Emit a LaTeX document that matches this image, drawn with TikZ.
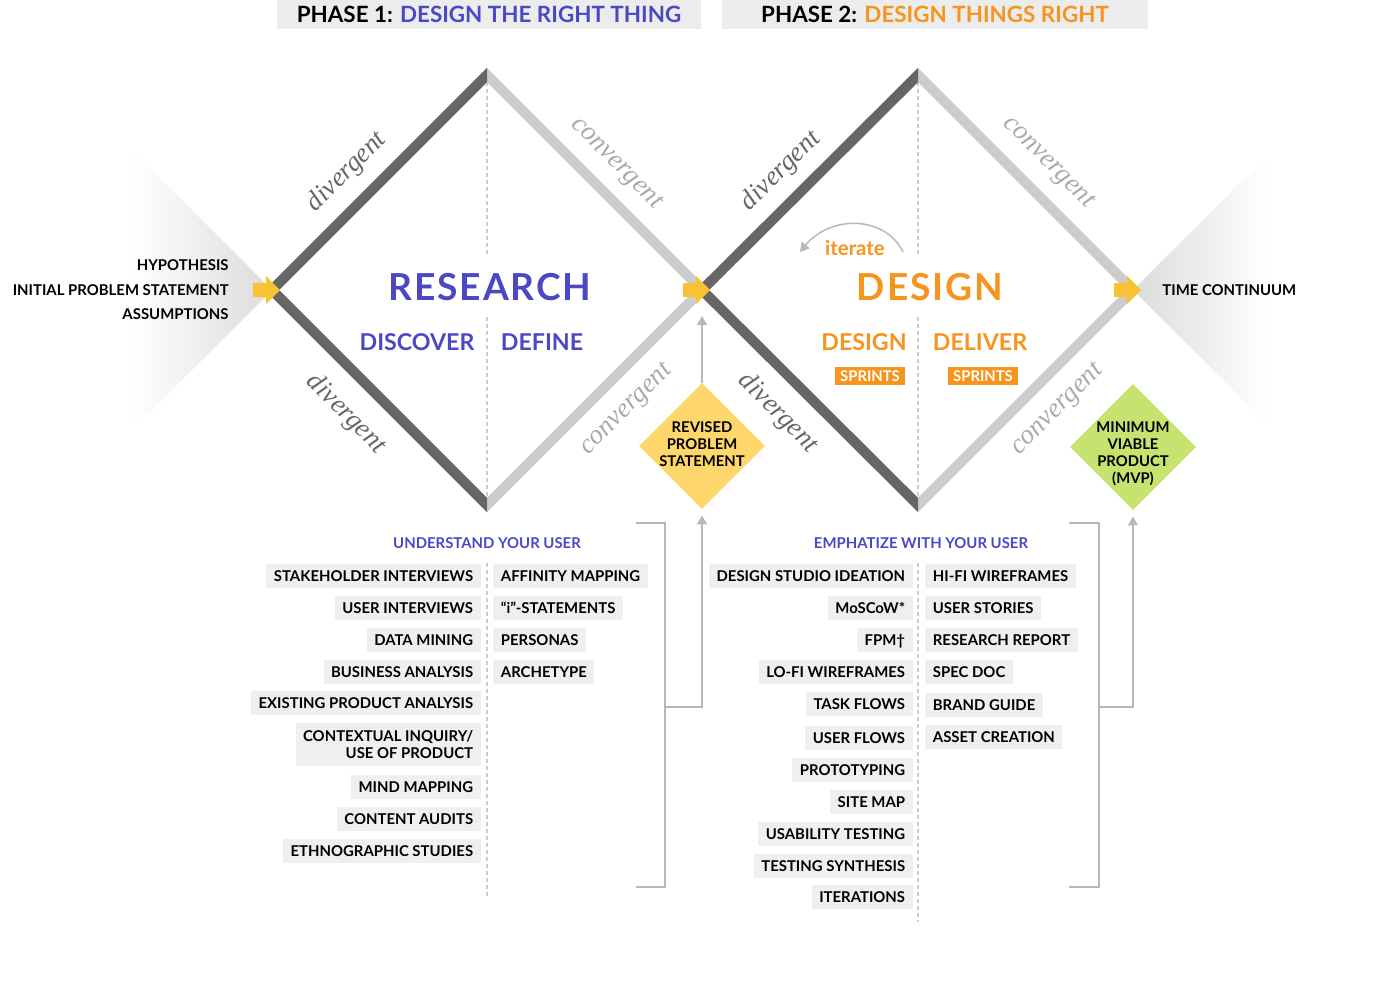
\documentclass[tikz,border=0pt]{standalone}
\usepackage{fontspec}
\setmainfont{Lato}
\newfontfamily\sideserif{Liberation Serif}
\usetikzlibrary{arrows.meta,shapes.geometric}
\definecolor{resblue}{HTML}{4B48C6}
\definecolor{desorange}{HTML}{F7941E}
\definecolor{barfill}{HTML}{ECECEC}
\definecolor{itemfill}{HTML}{EFEFEF}
\definecolor{darkside}{HTML}{666666}
\definecolor{lightside}{HTML}{CCCCCC}
\definecolor{convtext}{HTML}{AAAAAA}
\definecolor{arrowyellow}{HTML}{F8C332}
\definecolor{revyellow}{HTML}{FDD66C}
\definecolor{mvpgreen}{HTML}{C5E36E}
\definecolor{linkgray}{HTML}{B8B8B8}
\newcommand{\capsize}{\fontsize{7.45}{8.5}\selectfont\bfseries}
\tikzset{
  phasebar/.style={fill=barfill, minimum height=14.5pt, inner sep=0pt, text height=8pt, text depth=0pt, font=\fontsize{11.2}{13}\selectfont\bfseries},
  capstext/.style={inner sep=0pt, text height=5.4pt, text depth=0pt, font=\capsize},
  itemleft/.style={capstext, fill=itemfill, anchor=east, inner xsep=3.75pt, minimum height=12pt},
  itemright/.style={itemleft, anchor=west},
  itemtwo/.style={itemleft, align=right, text height={}, text depth={}, minimum height=21.5pt},
  listhead/.style={capstext, text=resblue},
  phaseword/.style={inner sep=0pt, font=\fontsize{18.6}{20}\selectfont\bfseries\addfontfeature{LetterSpace=5}},
  stageword/.style={inner sep=0pt, font=\fontsize{11.6}{13}\selectfont\bfseries},
  iterword/.style={inner sep=0pt, text=desorange, font=\fontsize{10.2}{12}\selectfont\bfseries},
  sprintbox/.style={fill=desorange, text=white, minimum width=35pt, minimum height=9pt, inner sep=0pt, text height=5.3pt, text depth=0pt, font=\fontsize{7.4}{8}\selectfont\bfseries},
  sideword/.style={inner sep=0pt, font=\sideserif\itshape\fontsize{13.5}{15}\selectfont},
  outcome/.style={diamond, aspect=1, minimum width=63pt, minimum height=63pt, inner sep=0pt},
  outcometext/.style={align=center, inner sep=0pt, font=\fontsize{7.4}{8.5}\selectfont\bfseries},
  divside/.style={darkside, line width=5pt, line join=miter},
  convside/.style={lightside, line width=5pt, line join=miter},
  guide/.style={lightside, line width=0.6pt, dash pattern=on 2pt off 1.5pt},
  linkline/.style={linkgray, line width=0.75pt},
  linkarrow/.style={linkline, -{Triangle[width=5pt,length=4.5pt]}},
}
\begin{document}
\begin{tikzpicture}[x=0.5pt,y=-0.5pt]
  \useasboundingbox (0,0) rectangle (1400,986);
  \coordinate (d1l) at (272,290);
  \coordinate (d1t) at (487,75);
  \coordinate (d1r) at (702,290);
  \coordinate (d1b) at (487,505);
  \coordinate (d2t) at (918,75);
  \coordinate (d2r) at (1133,290);
  \coordinate (d2b) at (918,505);
  % fading wedges
  \shade[left color=white, right color=black!14] (132,150) -- (d1l) -- (132,430) -- cycle;
  \shade[left color=black!14, right color=white] (d2r) -- (1268,155) -- (1268,425) -- cycle;
  % phase headers
  \node[phasebar, minimum width=212pt] (phase1) at (489,14.5) {PHASE 1: \textcolor{resblue}{DESIGN THE RIGHT THING}};
  \node[phasebar, minimum width=213pt] (phase2) at (935,14.5) {PHASE 2: \textcolor{desorange}{DESIGN THINGS RIGHT}};
  % centre guides
  \draw[guide] (d1t) -- (487,257) (487,317) -- (d1b) (487,563) -- (487,898);
  \draw[guide] (d2t) -- (918,255) (918,317) -- (d2b) (918,563) -- (918,922);
  % diamonds
  \draw[convside] (d1t) -- (d1r) -- (d1b) -- (d1l) -- cycle;
  \begin{scope}
    \clip (0,0) rectangle (487,986);
    \draw[divside] (d1t) -- (d1r) -- (d1b) -- (d1l) -- cycle;
  \end{scope}
  \draw[convside] (d2t) -- (d2r) -- (d2b) -- (d1r) -- cycle;
  \begin{scope}
    \clip (600,0) rectangle (918,986);
    \draw[divside] (d2t) -- (d2r) -- (d2b) -- (d1r) -- cycle;
  \end{scope}
  \foreach \v in {d1l,d1r,d2r}
    \fill[arrowyellow, shift={(\v)}] (-19,-7) -- (-6,-7) -- (-6,-14) -- (8,0) -- (-6,14) -- (-6,7) -- (-19,7) -- cycle;
  % side words
  \node[sideword, text=darkside, rotate=45] (div1a) at (347,172) {divergent};
  \node[sideword, text=convtext, rotate=-45] (conv1a) at (616,164) {convergent};
  \node[sideword, text=darkside, rotate=-45] (div1b) at (346,414) {divergent};
  \node[sideword, text=convtext, rotate=45] (conv1b) at (627,410) {convergent};
  \node[sideword, text=darkside, rotate=45] (div2a) at (781,171) {divergent};
  \node[sideword, text=convtext, rotate=-45] (conv2a) at (1048,163) {convergent};
  \node[sideword, text=darkside, rotate=-45] (div2b) at (778,413) {divergent};
  \node[sideword, text=convtext, rotate=45] (conv2b) at (1058,410) {convergent};
  % start and end
  \node[capstext, anchor=east] (hypothesis) at (229,265) {HYPOTHESIS};
  \node[capstext, anchor=east] (initial) at (229,290) {INITIAL PROBLEM STATEMENT};
  \node[capstext, anchor=east] (assumptions) at (229,314) {ASSUMPTIONS};
  \node[capstext, anchor=west] (timecont) at (1162,290) {TIME CONTINUUM};
  % phase words
  \node[phaseword, text=resblue] (research) at (490,287) {RESEARCH};
  \node[stageword, text=resblue] (discover) at (417,342) {DISCOVER};
  \node[stageword, text=resblue] (define) at (542,342) {DEFINE};
  \node[phaseword, text=desorange] (design) at (930,287) {DESIGN};
  \node[stageword, text=desorange] (designsub) at (864,342) {DESIGN};
  \node[stageword, text=desorange] (deliver) at (980,342) {DELIVER};
  \node[sprintbox] (sprint1) at (870,376) {SPRINTS};
  \node[sprintbox] (sprint2) at (983,376) {SPRINTS};
  \node[iterword] (iterate) at (855,248) {iterate};
  \coordinate (iterfrom) at (903,252);
  \coordinate (iterto) at (800,252);
  \draw[linkarrow] (iterfrom) .. controls (885,215) and (830,215) .. (iterto);
  % outcomes
  \node[outcome, fill=revyellow] (revised) at (702,446) {};
  \node[outcometext] (revisedtext) at (702,444) {REVISED\\PROBLEM\\STATEMENT};
  \node[outcome, fill=mvpgreen] (mvp) at (1133,447) {};
  \node[outcometext] (mvptext) at (1133,454) {MINIMUM\\VIABLE\\PRODUCT\\(MVP)};
  \draw[linkarrow, shorten >=13pt] (revised.north) -- (d1r);
  % research list
  \node[listhead] (understand) at (487,543) {UNDERSTAND YOUR USER};
  \node[itemleft] (stakeholder) at (481,576) {STAKEHOLDER INTERVIEWS};
  \node[itemleft] (userint) at (481,608) {USER INTERVIEWS};
  \node[itemleft] (datamining) at (481,640) {DATA MINING};
  \node[itemleft] (business) at (481,672) {BUSINESS ANALYSIS};
  \node[itemleft] (existing) at (481,703) {EXISTING PRODUCT ANALYSIS};
  \node[itemtwo] (contextual) at (481,744.5) {CONTEXTUAL INQUIRY/\\USE OF PRODUCT};
  \node[itemleft] (mindmap) at (481,787) {MIND MAPPING};
  \node[itemleft] (content) at (481,819) {CONTENT AUDITS};
  \node[itemleft] (ethno) at (481,851) {ETHNOGRAPHIC STUDIES};
  \node[itemright] (affinity) at (493,576) {AFFINITY MAPPING};
  \node[itemright] (istate) at (493,608) {“i”-STATEMENTS};
  \node[itemright] (personas) at (493,640) {PERSONAS};
  \node[itemright] (archetype) at (493,672) {ARCHETYPE};
  \draw[linkline] (636,523) -- (665,523) -- (665,887) -- (636,887);
  \coordinate (brace1) at (665,707);
  \draw[linkarrow, shorten >=3pt] (brace1) -- (brace1 -| revised.south) -- (revised.south);
  % design list
  \node[listhead] (emphatize) at (921,543) {EMPHATIZE WITH YOUR USER};
  \node[itemleft] (studio) at (913,576) {DESIGN STUDIO IDEATION};
  \node[itemleft] (moscow) at (913,608) {MoSCoW*};
  \node[itemleft] (fpm) at (913,640) {FPM†};
  \node[itemleft] (lofi) at (913,672) {LO-FI WIREFRAMES};
  \node[itemleft] (taskflows) at (913,704) {TASK FLOWS};
  \node[itemleft] (userflows) at (913,738) {USER FLOWS};
  \node[itemleft] (proto) at (913,770) {PROTOTYPING};
  \node[itemleft] (sitemap) at (913,802) {SITE MAP};
  \node[itemleft] (usability) at (913,834) {USABILITY TESTING};
  \node[itemleft] (synthesis) at (913,866) {TESTING SYNTHESIS};
  \node[itemleft] (iterations) at (913,897) {ITERATIONS};
  \node[itemright] (hifi) at (925,576) {HI-FI WIREFRAMES};
  \node[itemright] (stories) at (925,608) {USER STORIES};
  \node[itemright] (report) at (925,640) {RESEARCH REPORT};
  \node[itemright] (specdoc) at (925,672) {SPEC DOC};
  \node[itemright] (brand) at (925,705) {BRAND GUIDE};
  \node[itemright] (asset) at (925,737) {ASSET CREATION};
  \draw[linkline] (1069,523) -- (1099,523) -- (1099,887) -- (1069,887);
  \coordinate (brace2) at (1099,707);
  \draw[linkarrow, shorten >=3pt] (brace2) -- (brace2 -| mvp.south) -- (mvp.south);
\end{tikzpicture}
\end{document}
